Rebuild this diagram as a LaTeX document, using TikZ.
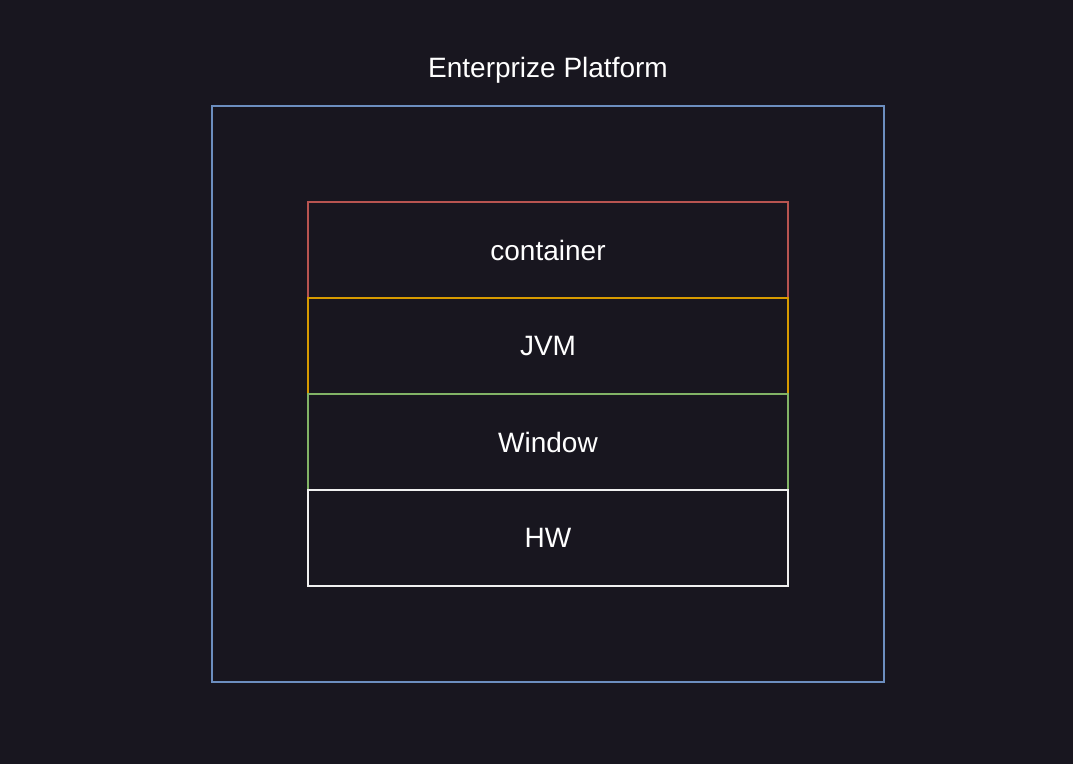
\documentclass[tikz,border=0pt]{standalone}
\usepackage{fontspec}
\setmainfont{Liberation Sans}
\definecolor{bg}{HTML}{18161F}
\definecolor{cblue}{HTML}{6C8EBF}
\definecolor{cred}{HTML}{B85450}
\definecolor{corange}{HTML}{D79B00}
\definecolor{cgreen}{HTML}{82B366}
\definecolor{cwhite}{HTML}{F0F0F0}
\begin{document}
\begin{tikzpicture}[x=0.75pt,y=-0.75pt,
  txt/.style={text=white, font=\fontsize{21}{25}\selectfont},
  layer/.style={txt, draw, line width=1.5pt, fill=bg, minimum width=480*0.75pt, minimum height=96*0.75pt, inner sep=0pt},
]
\fill[bg] (0,0) rectangle (1073,764);
\useasboundingbox (0,0) rectangle (1073,764);
\node[draw=cblue, line width=1.5pt, minimum width=672*0.75pt, minimum height=576*0.75pt, inner sep=0pt] (platform) at (548,394) {};
\node[txt] (title) at (548,70) {Enterprize Platform};
\node[layer, draw=cred] (container) at (548,250) {container};
\node[layer, draw=corange] (jvm) at (548,346) {JVM};
\node[layer, draw=cgreen] (window) at (548,442) {Window};
\node[layer, draw=cwhite] (hw) at (548,538) {HW};
\end{tikzpicture}
\end{document}
